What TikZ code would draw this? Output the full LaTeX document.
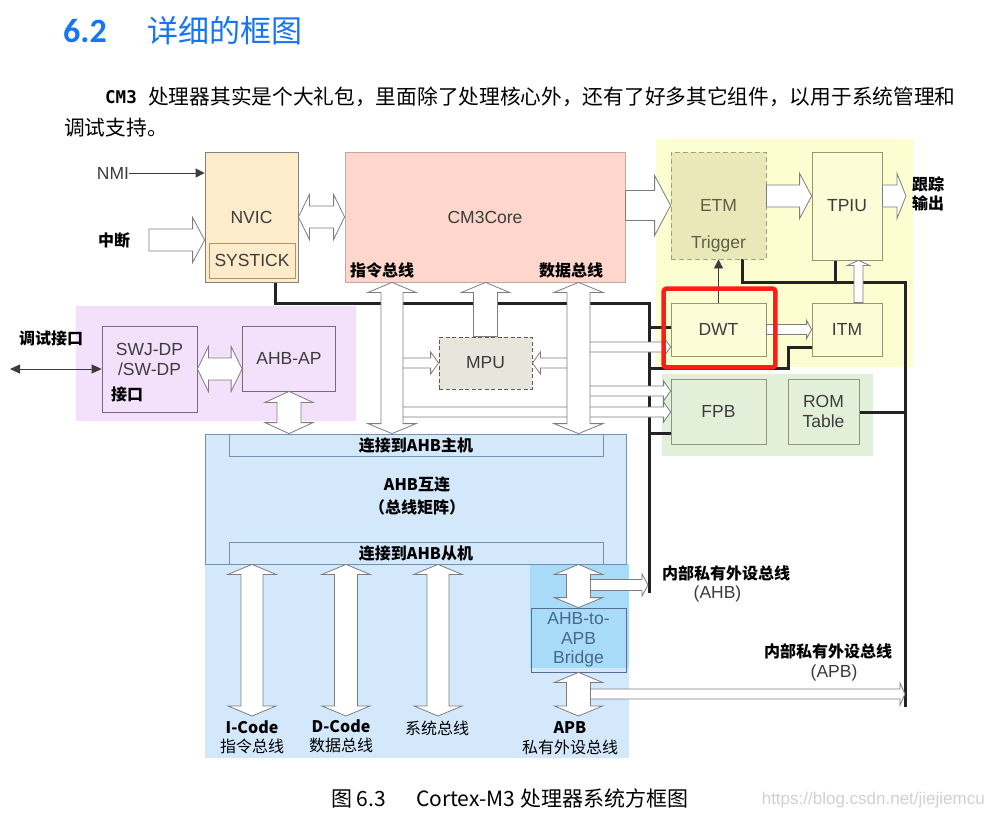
\documentclass[tikz,border=0pt]{standalone}
\usepackage{fontspec}
\setmainfont{Liberation Sans}
\newfontfamily\cjk{Noto Sans CJK SC}
\newfontfamily\monofnt{DejaVu Sans Mono}
\newfontfamily\titlefnt{Carlito}
\usetikzlibrary{arrows.meta}
\usetikzlibrary{calc}

\definecolor{titleblue}{RGB}{22,118,242}
\definecolor{nvicfill}{RGB}{253,235,201}
\definecolor{systline}{RGB}{170,150,115}
\definecolor{corefill}{RGB}{255,214,204}
\definecolor{coreline}{RGB}{200,165,160}
\definecolor{tracebg}{RGB}{253,253,210}
\definecolor{tracebox}{RGB}{252,252,214}
\definecolor{traceline}{RGB}{150,150,115}
\definecolor{etmfill}{RGB}{234,231,185}
\definecolor{etmline}{RGB}{160,158,125}
\definecolor{etmtxt}{RGB}{95,95,70}
\definecolor{fpbbg}{RGB}{227,240,217}
\definecolor{fpbline}{RGB}{140,150,125}
\definecolor{dbgbg}{RGB}{243,224,250}
\definecolor{dbgline}{RGB}{120,105,125}
\definecolor{mpufill}{RGB}{232,229,220}
\definecolor{mpuline}{RGB}{90,90,90}
\definecolor{ahbfill}{RGB}{212,232,252}
\definecolor{apbfill}{RGB}{168,219,248}
\definecolor{ahbline}{RGB}{115,145,180}
\definecolor{bridgeline}{RGB}{85,110,150}
\definecolor{bridgetxt}{RGB}{70,105,140}
\definecolor{boxline}{RGB}{130,130,130}
\definecolor{txtgray}{RGB}{60,60,60}
\definecolor{busline}{RGB}{35,35,35}
\definecolor{arrowline}{RGB}{125,125,125}
\definecolor{hlred}{RGB}{255,30,20}

\newcommand{\boxfont}{\fontsize{17.5}{19.5}\selectfont}
\newcommand{\zhfont}{\cjk\mdseries\fontsize{16}{19}\selectfont}
\newcommand{\zhbold}{\cjk\bfseries\fontsize{16}{19}\selectfont}

\newcommand{\onearrow}[5]{%
  \path[hollow] let \p1=(#1), \p2=(#2), \n1={atan2(\y2-\y1,\x2-\x1)},
    \n2={veclen(\x2-\x1,\y2-\y1)} in [shift={(\p1)}, rotate=\n1]
    (0,#3) -- ({\n2-#5},#3) -- ({\n2-#5},#4) -- ({\n2},0)
    -- ({\n2-#5},-#4) -- ({\n2-#5},-#3) -- (0,-#3) -- cycle;}
\newcommand{\twoarrow}[5]{%
  \path[hollow] let \p1=(#1), \p2=(#2), \n1={atan2(\y2-\y1,\x2-\x1)},
    \n2={veclen(\x2-\x1,\y2-\y1)} in [shift={(\p1)}, rotate=\n1]
    (0,0) -- (#5,#4) -- (#5,#3) -- ({\n2-#5},#3) -- ({\n2-#5},#4) -- ({\n2},0)
    -- ({\n2-#5},-#4) -- ({\n2-#5},-#3) -- (#5,-#3) -- (#5,-#4) -- cycle;}

\begin{document}
\begin{tikzpicture}[x=1pt, y=-1pt,
    blk/.style={draw=boxline, line width=0.8pt, inner sep=0pt, font=\boxfont, text=txtgray},
    txt/.style={font=\boxfont, text=txtgray, align=center, inner sep=0pt},
    zhlab/.style={font=\zhbold, text=black, inner sep=0pt},
    hollow/.style={draw=arrowline, fill=white, line width=0.8pt},
    bus/.style={draw=busline, line width=3pt},
    thinline/.style={draw=txtgray, line width=0.8pt},
    headtip/.style={-{Triangle[length=9pt,width=9pt]}},
    bothtip/.style={{Triangle[length=10pt,width=9pt]}-{Triangle[length=10pt,width=9pt]}}]
    \fill[white] (0,0) rectangle (987,823);
    \useasboundingbox (0,0) rectangle (987,823);

    \node[anchor=west, inner sep=0pt, font=\titlefnt\bfseries\fontsize{34}{36}\selectfont, text=titleblue] (secnum) at (63,31) {6.2};
    \node[anchor=west, inner sep=0pt, font=\cjk\fontsize{31}{34}\selectfont, text=titleblue] (sectitle) at (147,31) {详细的框图};
    \node[anchor=west, inner sep=0pt, font=\monofnt\bfseries\fontsize{17.5}{20}\selectfont] (cm3word) at (105,97) {CM3};
    \node[anchor=west, inner sep=0pt, font=\cjk\fontsize{20.7}{24}\selectfont] (line1) at (148,97) {处理器其实是个大礼包，里面除了处理核心外，还有了好多其它组件，以用于系统管理和};
    \node[anchor=west, inner sep=0pt, font=\cjk\fontsize{20.7}{24}\selectfont] (line2) at (64,128) {调试支持。};

    \fill[tracebg] (656,139) rectangle (913,367);
    \fill[fpbbg] (662,374) rectangle (873,456);
    \fill[dbgbg] (76,306) rectangle (356,421);
    \fill[ahbfill] (205,564) rectangle (629,758);
    \fill[apbfill] (530,564) rectangle (629,668);

    \coordinate (irq) at (149,240);
    \coordinate (dbgend) at (10,369);
    \coordinate (ibus) at (392,0);
    \coordinate (dbus) at (578.5,0);
    \coordinate (b1) at (0,347);
    \coordinate (b2) at (0,391);
    \coordinate (b3) at (0,412);
    \coordinate (trow) at (0,196);
    \coordinate (trace) at (906,196);
    \coordinate (itmup) at (858.5,0);
    \coordinate (busend) at (0,716);
    \coordinate (icx) at (252,0);
    \coordinate (dcx) at (346,0);
    \coordinate (scx) at (438,0);
    \coordinate (ahbp) at (648,585);
    \coordinate (apbp) at (905,694);
    \coordinate (j1) at (275,303);
    \coordinate (j2) at (649,303);
    \coordinate (j3) at (649,593);
    \coordinate (j4) at (788,368);
    \coordinate (j6) at (649,433);
    \coordinate (k1) at (742,282);
    \coordinate (k2) at (905,282);
    \coordinate (k3) at (905,707);
    \coordinate (k4) at (835,282);

    \draw[bus] (251.5,282 -| j1) -- (j1) -- (j2) -- (j3);
    \draw[bus] (j2 |- 0,327) -- (671,327);
    \draw[bus] (j2 |- j4) -- (j4) |- (812,347);
    \draw[bus] (j6) -- (671,433);
    \draw[bus] (742,259) -- (k1) -- (k2) -- (k3);
    \draw[bus] (835,260) -- (k4);
    \draw[bus] (859,412) -- (905,412);

    \node[blk, fill=nvicfill, minimum width=93pt, minimum height=130pt] (nvic) at (251.5,217) {NVIC};
    \node[blk, draw=systline, fill=nvicfill, minimum width=86pt, minimum height=35pt] (systick) at (252,260.5) {SYSTICK};
    \node[blk, draw=coreline, fill=corefill, minimum width=280pt, minimum height=130pt] (core) at (485,217) {CM3Core};
    \node[blk, draw=etmline, dash pattern=on 5pt off 3pt, fill=etmfill, text=etmtxt, minimum width=95pt, minimum height=107pt] (etm) at (718.5,205.5) {ETM};
    \node[txt, text=etmtxt] (trig) at (718.5,244) {Trigger};
    \node[blk, draw=traceline, fill=tracebox, minimum width=70pt, minimum height=108pt] (tpiu) at (847,206) {TPIU};
    \node[blk, draw=traceline, fill=tracebox, minimum width=95pt, minimum height=53pt] (dwt) at (718.5,329.5) {DWT};
    \node[blk, draw=traceline, fill=tracebox, minimum width=70pt, minimum height=53pt] (itm) at (847,329.5) {ITM};
    \node[blk, draw=fpbline, fill=fpbbg, minimum width=95pt, minimum height=65pt] (fpb) at (718.5,411.5) {FPB};
    \node[blk, draw=fpbline, fill=fpbbg, minimum width=71pt, minimum height=65pt, align=center] (rom) at (823.5,411.5) {ROM\\Table};
    \node[blk, draw=mpuline, dash pattern=on 4pt off 2.5pt, fill=mpufill, minimum width=93pt, minimum height=52pt] (mpu) at (485.5,363) {MPU};
    \node[blk, draw=dbgline, fill=dbgbg, minimum width=95pt, minimum height=86pt] (swj) at (149.5,369) {};
    \node[txt] (swjname) at (149.5,359.5) {SWJ-DP\\/SW-DP};
    \node[zhlab] (swjport) at (127,394) {接口};
    \node[blk, draw=dbgline, fill=dbgbg, minimum width=93pt, minimum height=65pt] (ap) at (289,358.5) {AHB-AP};
    \node[blk, draw=ahbline, fill=ahbfill, minimum width=421pt, minimum height=130pt] (ahb) at (415.5,499) {};
    \node[blk, draw=ahbline, fill=ahbfill, minimum width=374pt, minimum height=22pt, font=\zhbold, text=black] (mst) at (416,445) {连接到AHB主机};
    \node[blk, draw=ahbline, fill=ahbfill, minimum width=374pt, minimum height=22pt, font=\zhbold, text=black] (slv) at (416,553) {连接到AHB从机};
    \node[zhlab, align=center, font=\cjk\bfseries\fontsize{16}{23}\selectfont] (ahbname) at (417,495.5) {AHB互连\\（总线矩阵）};
    \node[blk, draw=bridgeline, minimum width=95pt, minimum height=64pt, text=bridgetxt, align=center] (bridge) at (578.5,640) {AHB-to-\\APB\\Bridge};

    \node[txt] (nmi) at (113,173) {NMI};
    \node[zhlab] (irqlab) at (114,240) {中断};
    \node[zhlab] (dbglab) at (51,338) {调试接口};
    \node[zhlab] (ilab) at (382,270) {指令总线};
    \node[zhlab] (dlab) at (571,270) {数据总线};
    \node[zhlab, align=left] (trout) at (928,194) {跟踪\\输出};
    \node[zhlab] (ahbplab) at (726,573) {内部私有外设总线};
    \node[txt] (ahbpname) at (717.5,594) {(AHB)};
    \node[zhlab] (apbplab) at (828,651) {内部私有外设总线};
    \node[txt] (apbpname) at (834,673) {(APB)};
    \node[zhlab, align=center] (icl) at (252,737.5) {I-Code\\{\zhfont 指令总线}};
    \node[zhlab, align=center] (dcl) at (341,736.5) {D-Code\\{\zhfont 数据总线}};
    \node[zhlab, font=\zhfont] (scl) at (437,728) {系统总线};
    \node[zhlab, align=center, font=\cjk\bfseries\fontsize{16}{20}\selectfont] (apl) at (570,738) {APB\\{\zhfont 私有外设总线}};

    \draw[thinline, headtip] (nmi) -- (nvic.west |- nmi);
    \draw[thinline, headtip] (dwt.north) -- (etm.south -| dwt);
    \draw[thinline, bothtip] (dbgend) -- (swj.west);

    \onearrow{irq}{nvic.west |- irq}{11}{22.5}{12}
    \twoarrow{nvic.east}{core.west}{11}{22.5}{11}
    \onearrow{core.east |- etm}{etm.west}{15}{30}{16}
    \onearrow{etm.east |- trow}{tpiu.west |- trow}{11}{22.5}{12}
    \onearrow{tpiu.east |- trow}{trace}{11}{22.5}{9}
    \onearrow{dwt.east}{itm.west}{5}{9}{5}
    \onearrow{itm.north -| itmup}{tpiu.south -| itmup}{4.5}{11}{5}

    \onearrow{ibus |- mpu}{mpu.west}{5}{11}{8}
    \onearrow{dbus |- mpu}{mpu.east}{5}{11}{8}
    \onearrow{dbus |- b1}{dwt.west |- b1}{5}{10}{7}
    \onearrow{dbus |- b2}{fpb.west |- b2}{5}{10}{7}
    \onearrow{ibus |- b3}{fpb.west |- b3}{5}{10}{7}
    \twoarrow{core.south -| ibus}{ahb.north -| ibus}{11}{24}{10}
    \twoarrow{core.south -| dbus}{ahb.north -| dbus}{11.5}{24.5}{10}
    \onearrow{mpu.north}{core.south -| mpu}{12}{24}{10}
    \twoarrow{swj.east}{ap.west |- swj}{11}{22.5}{11}
    \twoarrow{ap.south}{ahb.north -| ap}{12}{24}{11}

    \onearrow{bridge |- ahbp}{ahbp}{5.5}{11}{6}
    \onearrow{bridge |- apbp}{apbp}{5}{11}{5}
    \twoarrow{ahb.south -| icx}{busend -| icx}{11}{24}{10}
    \twoarrow{ahb.south -| dcx}{busend -| dcx}{11.5}{24}{10}
    \twoarrow{ahb.south -| scx}{busend -| scx}{11}{24}{10}
    \twoarrow{ahb.south -| bridge}{bridge.north}{12}{24}{10}
    \twoarrow{bridge.south}{busend -| bridge}{12}{24}{10}

    \draw[hlred, line width=4.5pt, rounded corners=3pt] ($(dwt.south west)+(-7,11)$) rectangle ($(dwt.north east)+(9,-14)$);

    \node[anchor=west, inner sep=0pt, font=\cjk\fontsize{21}{24}\selectfont] (cap) at (331,798) {图 6.3\hspace{30pt}Cortex-M3 处理器系统方框图};
    \node[anchor=east, inner sep=0pt, font=\fontsize{17}{19}\selectfont, text=black!18] (mark) at (985,800) {https://blog.csdn.net/jiejiemcu};
\end{tikzpicture}
\end{document}
